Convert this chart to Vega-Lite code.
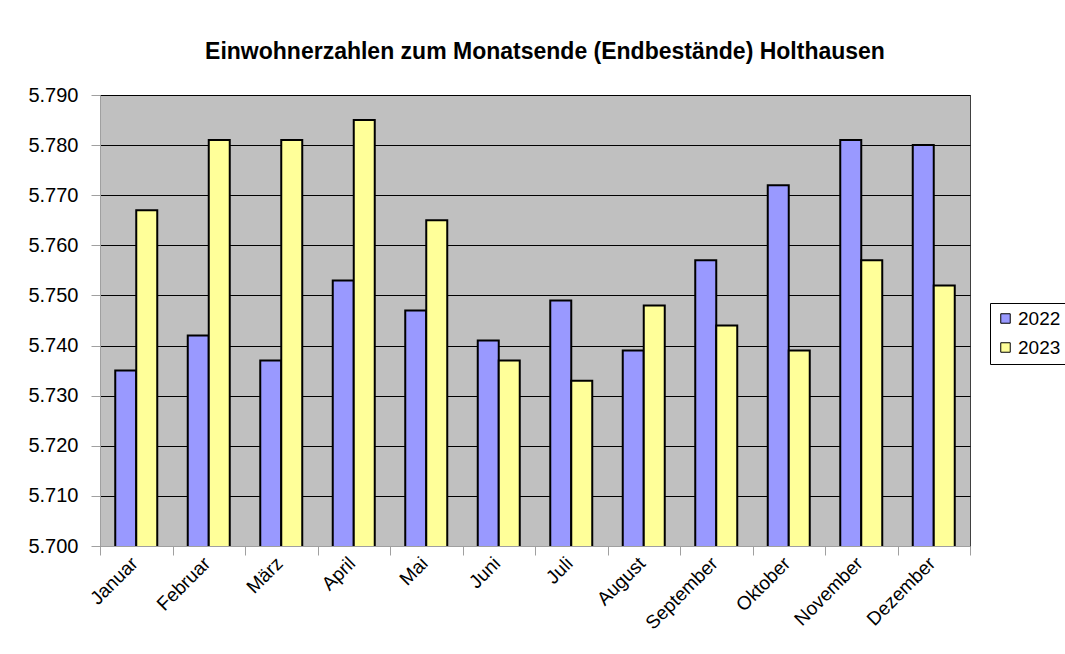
{
  "$schema": "https://vega.github.io/schema/vega-lite/v6.json",
  "width": 870,
  "height": 451,
  "autosize": {"type": "none"},
  "padding": {"left": 100, "top": 95, "right": 95, "bottom": 108},
  "background": "white",
  "title": {
    "text": "Einwohnerzahlen zum Monatsende (Endbestände) Holthausen",
    "font": "Liberation Sans",
    "fontSize": 23,
    "fontWeight": "bold",
    "color": "black",
    "anchor": "middle",
    "frame": "group",
    "dx": 10,
    "offset": 21
  },
  "data": {
    "values": [
      {"Monat": "Januar", "Jahr": "2022", "Wert": 5735},
      {"Monat": "Januar", "Jahr": "2023", "Wert": 5767},
      {"Monat": "Februar", "Jahr": "2022", "Wert": 5742},
      {"Monat": "Februar", "Jahr": "2023", "Wert": 5781},
      {"Monat": "März", "Jahr": "2022", "Wert": 5737},
      {"Monat": "März", "Jahr": "2023", "Wert": 5781},
      {"Monat": "April", "Jahr": "2022", "Wert": 5753},
      {"Monat": "April", "Jahr": "2023", "Wert": 5785},
      {"Monat": "Mai", "Jahr": "2022", "Wert": 5747},
      {"Monat": "Mai", "Jahr": "2023", "Wert": 5765},
      {"Monat": "Juni", "Jahr": "2022", "Wert": 5741},
      {"Monat": "Juni", "Jahr": "2023", "Wert": 5737},
      {"Monat": "Juli", "Jahr": "2022", "Wert": 5749},
      {"Monat": "Juli", "Jahr": "2023", "Wert": 5733},
      {"Monat": "August", "Jahr": "2022", "Wert": 5739},
      {"Monat": "August", "Jahr": "2023", "Wert": 5748},
      {"Monat": "September", "Jahr": "2022", "Wert": 5757},
      {"Monat": "September", "Jahr": "2023", "Wert": 5744},
      {"Monat": "Oktober", "Jahr": "2022", "Wert": 5772},
      {"Monat": "Oktober", "Jahr": "2023", "Wert": 5739},
      {"Monat": "November", "Jahr": "2022", "Wert": 5781},
      {"Monat": "November", "Jahr": "2023", "Wert": 5757},
      {"Monat": "Dezember", "Jahr": "2022", "Wert": 5780},
      {"Monat": "Dezember", "Jahr": "2023", "Wert": 5752}
    ]
  },
  "mark": {"type": "bar", "stroke": "black", "strokeWidth": 2, "clip": true},
  "encoding": {
    "x": {
      "field": "Monat",
      "type": "nominal",
      "sort": null,
      "scale": {"paddingInner": 0, "paddingOuter": 0},
      "axis": {
        "title": null,
        "labelAngle": -45,
        "labelAlign": "right",
        "labelBaseline": "middle",
        "labelFont": "Liberation Sans",
        "labelFontSize": 19,
        "labelColor": "black",
        "labelPadding": 5,
        "labelOffset": -2,
        "tickColor": "#a0a0a0",
        "tickSize": 9,
        "tickBand": "extent",
        "domainColor": "#a0a0a0",
        "grid": false
      }
    },
    "xOffset": {
      "field": "Jahr",
      "type": "nominal",
      "scale": {"paddingInner": 0, "paddingOuter": 0.726}
    },
    "y": {
      "field": "Wert",
      "type": "quantitative",
      "scale": {"domain": [5700, 5790], "zero": false, "nice": false},
      "axis": {
        "title": null,
        "values": [5700, 5710, 5720, 5730, 5740, 5750, 5760, 5770, 5780, 5790],
        "labelExpr": "replace(format(datum.value, ',.0f'), ',', '.')",
        "labelFont": "Liberation Sans",
        "labelFontSize": 20,
        "labelColor": "black",
        "labelPadding": 13,
        "tickColor": "#a0a0a0",
        "tickSize": 9,
        "domainColor": "#a0a0a0",
        "grid": true,
        "gridColor": "black",
        "gridOpacity": 1,
        "gridWidth": 1
      }
    },
    "color": {
      "field": "Jahr",
      "type": "nominal",
      "scale": {"domain": ["2022", "2023"], "range": ["#9999FF", "#FFFF99"]},
      "legend": {
        "title": null,
        "orient": "none",
        "legendX": 890,
        "legendY": 208,
        "symbolType": "square",
        "symbolSize": 90,
        "symbolStrokeColor": "black",
        "symbolStrokeWidth": 1,
        "labelFont": "Liberation Sans",
        "labelFontSize": 19,
        "labelColor": "black",
        "labelOffset": 3,
        "strokeColor": "black",
        "padding": 6,
        "rowPadding": 9,
        "fillColor": "white"
      }
    }
  },
  "config": {
    "view": {"fill": "#C0C0C0", "stroke": "#404040", "strokeWidth": 1}
  }
}
